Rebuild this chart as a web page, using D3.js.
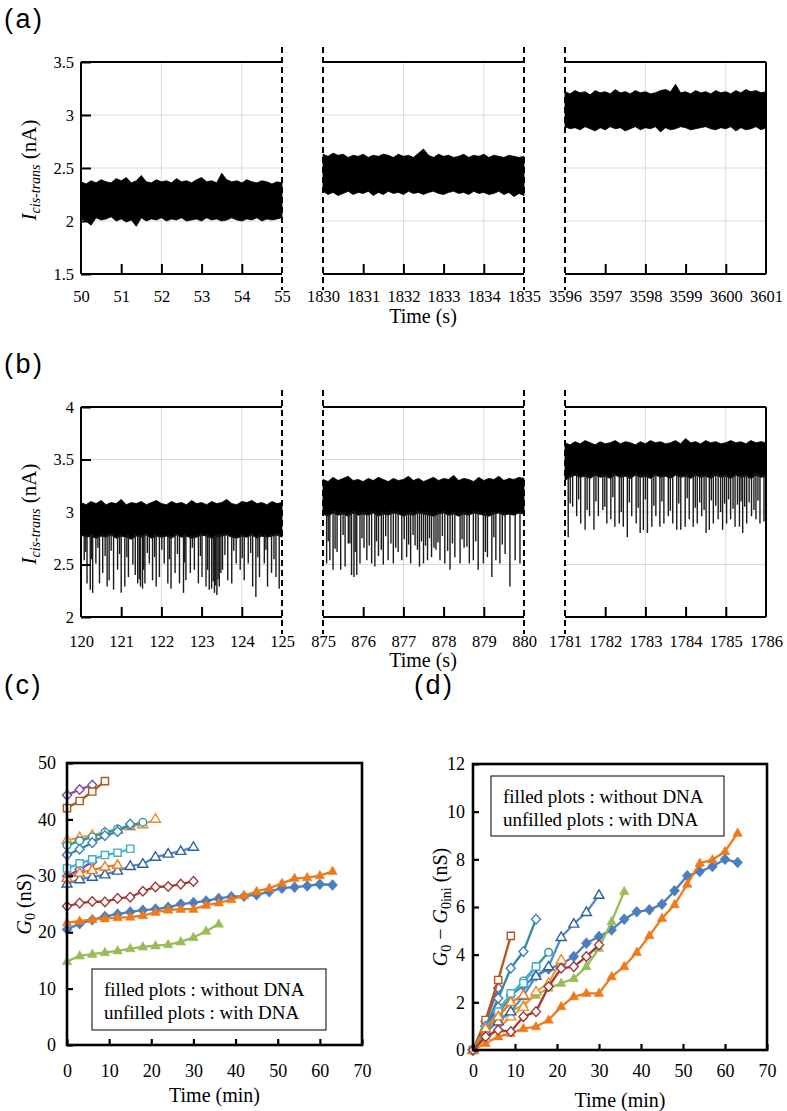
<!DOCTYPE html>
<html><head><meta charset="utf-8">
<script src="https://cdn.jsdelivr.net/npm/d3@7"></script>
<style>
html,body{margin:0;padding:0;background:#fff;}
svg{display:block;}
</style></head><body>
<svg id="chart" width="787" height="1111"></svg>
<script>
// ---------------- DATA: panel (a) current traces (envelopes, nA) ----------------
const aSegStarts = [50, 1830, 3596];
const aYTicks = [1.5, 2, 2.5, 3, 3.5];
const aTop1 = [2.37,2.35,2.38,2.36,2.39,2.37,2.36,2.40,2.38,2.41,2.36,2.38,2.43,2.37,2.36,2.39,2.37,2.38,2.36,2.40,2.37,2.38,2.36,2.39,2.41,2.37,2.38,2.36,2.45,2.39,2.37,2.38,2.36,2.39,2.37,2.36,2.38,2.37,2.35,2.37,2.36];
const aBot1 = [2.02,2.00,1.96,2.03,2.01,2.02,2.04,2.00,2.02,1.99,2.01,1.95,2.03,2.00,2.02,2.01,2.03,2.00,2.02,2.01,2.03,2.00,2.01,2.02,2.00,2.03,2.01,2.02,2.00,2.01,2.03,2.01,2.00,2.02,2.01,2.03,2.00,2.02,2.01,2.02,2.03];
const aTop2 = [2.63,2.61,2.64,2.62,2.63,2.60,2.62,2.61,2.63,2.60,2.62,2.61,2.63,2.62,2.60,2.63,2.61,2.62,2.60,2.64,2.68,2.62,2.60,2.63,2.61,2.62,2.60,2.61,2.63,2.60,2.62,2.61,2.63,2.60,2.62,2.61,2.60,2.62,2.61,2.60,2.61];
const aBot2 = [2.28,2.25,2.27,2.24,2.26,2.28,2.25,2.27,2.26,2.28,2.24,2.27,2.25,2.28,2.26,2.27,2.25,2.28,2.26,2.27,2.25,2.27,2.28,2.26,2.25,2.27,2.28,2.26,2.27,2.25,2.28,2.26,2.27,2.25,2.26,2.28,2.25,2.27,2.23,2.26,2.24];
const aTop3 = [3.22,3.20,3.23,3.21,3.22,3.19,3.23,3.21,3.22,3.20,3.24,3.21,3.22,3.20,3.23,3.21,3.22,3.20,3.21,3.23,3.24,3.22,3.29,3.21,3.22,3.20,3.23,3.21,3.22,3.20,3.23,3.21,3.22,3.20,3.23,3.21,3.24,3.22,3.23,3.21,3.22];
const aBot3 = [2.89,2.87,2.88,2.86,2.89,2.87,2.85,2.88,2.86,2.89,2.87,2.88,2.85,2.87,2.89,2.86,2.88,2.87,2.89,2.84,2.88,2.86,2.87,2.89,2.88,2.86,2.87,2.88,2.89,2.87,2.86,2.88,2.87,2.89,2.85,2.88,2.86,2.87,2.89,2.86,2.88];

// ---------------- DATA: panel (b) current traces with blockade spikes ----------------
const bSegStarts = [120, 875, 1781];
const bYTicks = [2, 2.5, 3, 3.5, 4];
const bTop1 = [3.09,3.07,3.10,3.08,3.11,3.07,3.09,3.08,3.12,3.07,3.09,3.08,3.10,3.07,3.09,3.11,3.08,3.07,3.10,3.08,3.09,3.07,3.11,3.08,3.09,3.07,3.10,3.08,3.09,3.12,3.08,3.07,3.10,3.09,3.11,3.08,3.09,3.07,3.10,3.08,3.09];
const bBot1 = [2.78,2.76,2.77,2.75,2.77,2.76,2.78,2.75,2.77,2.76,2.74,2.77,2.76,2.78,2.75,2.77,2.76,2.77,2.75,2.78,2.76,2.77,2.75,2.76,2.78,2.77,2.75,2.76,2.77,2.78,2.76,2.75,2.77,2.76,2.78,2.75,2.77,2.76,2.77,2.78,2.76];
const bTop2 = [3.31,3.29,3.33,3.30,3.32,3.34,3.30,3.31,3.29,3.32,3.30,3.33,3.31,3.29,3.32,3.30,3.31,3.34,3.30,3.32,3.29,3.31,3.33,3.30,3.32,3.31,3.35,3.30,3.32,3.31,3.29,3.33,3.30,3.32,3.31,3.34,3.30,3.32,3.31,3.33,3.32];
const bBot2 = [2.98,2.96,2.99,2.97,2.98,2.96,2.99,2.97,2.98,2.97,2.99,2.96,2.98,2.97,2.99,2.98,2.96,2.98,2.97,2.99,2.98,2.97,2.96,2.98,2.99,2.97,2.98,2.96,2.98,2.97,2.99,2.98,2.97,2.96,2.98,2.99,2.97,2.98,2.97,2.99,2.98];
const bTop3 = [3.66,3.64,3.67,3.65,3.68,3.66,3.64,3.67,3.65,3.66,3.68,3.65,3.67,3.66,3.64,3.67,3.65,3.68,3.66,3.67,3.65,3.66,3.68,3.65,3.70,3.66,3.67,3.65,3.68,3.66,3.67,3.65,3.66,3.68,3.66,3.67,3.65,3.68,3.66,3.67,3.66];
const bBot3 = [3.30,3.33,3.35,3.33,3.34,3.32,3.35,3.33,3.34,3.32,3.35,3.33,3.34,3.32,3.35,3.33,3.34,3.32,3.35,3.33,3.34,3.32,3.35,3.33,3.34,3.32,3.35,3.33,3.34,3.32,3.35,3.33,3.34,3.32,3.35,3.33,3.34,3.32,3.35,3.33,3.34];
// deep blockade spikes (time s, minimum nA)
const bSpikeT1 = [120.08,120.15,120.23,120.29,120.37,120.46,120.54,120.65,120.70,120.81,120.91,121.00,121.09,121.18,121.29,121.41,121.48,121.53,121.59,121.70,121.78,121.87,121.95,122.07,122.16,122.24,122.34,122.45,122.55,122.61,122.72,122.82,122.92,123.01,123.11,123.19,123.25,123.32,123.38,123.44,123.52,123.65,123.75,123.86,123.96,124.06,124.16,124.27,124.35,124.44,124.56,124.64,124.74,124.85,124.93];
const bSpikeV1 = [2.54,2.32,2.26,2.23,2.51,2.32,2.42,2.29,2.35,2.26,2.45,2.23,2.29,2.38,2.50,2.32,2.29,2.27,2.32,2.51,2.35,2.29,2.38,2.51,2.32,2.27,2.42,2.32,2.23,2.35,2.42,2.45,2.32,2.38,2.29,2.26,2.27,2.23,2.21,2.29,2.45,2.35,2.32,2.51,2.45,2.35,2.51,2.29,2.19,2.38,2.51,2.29,2.42,2.38,2.27];
const bSpikeT2 = [875.09,875.17,875.25,875.35,875.44,875.55,875.63,875.71,875.77,875.84,875.92,876.02,876.09,876.21,876.29,876.38,876.50,876.62,876.75,876.87,876.96,877.08,877.18,877.29,877.40,877.50,877.60,877.70,877.81,877.91,878.03,878.16,878.28,878.41,878.51,878.64,878.74,878.86,878.99,879.09,879.20,879.30,879.40,879.53,879.65,879.78,879.90];
const bSpikeV2 = [2.51,2.54,2.45,2.62,2.45,2.48,2.70,2.40,2.38,2.40,2.51,2.66,2.54,2.51,2.48,2.58,2.50,2.54,2.51,2.62,2.54,2.57,2.51,2.68,2.48,2.51,2.54,2.57,2.64,2.54,2.51,2.45,2.57,2.51,2.66,2.51,2.54,2.45,2.51,2.57,2.38,2.54,2.51,2.60,2.29,2.54,2.51];
const bSpikeT3 = [1781.08,1781.19,1781.29,1781.39,1781.50,1781.61,1781.72,1781.83,1781.94,1782.04,1782.14,1782.24,1782.35,1782.45,1782.55,1782.66,1782.77,1782.87,1782.95,1783.05,1783.16,1783.26,1783.36,1783.46,1783.57,1783.68,1783.78,1783.88,1783.99,1784.09,1784.19,1784.29,1784.40,1784.51,1784.59,1784.69,1784.81,1784.92,1785.02,1785.12,1785.23,1785.34,1785.42,1785.52,1785.64,1785.75,1785.85,1785.95];
const bSpikeV3 = [2.76,3.05,2.96,2.89,2.83,2.96,2.83,2.96,3.02,2.89,2.93,2.86,2.89,2.86,2.76,2.96,2.89,2.80,2.83,2.80,2.86,2.96,2.86,2.89,2.96,2.89,2.83,2.83,2.86,2.93,2.86,2.89,2.96,2.80,2.83,2.89,2.93,2.83,2.89,2.93,2.86,2.86,2.80,2.89,2.96,2.93,2.89,2.91];
// shallower blockade spikes
const bShallowT1 = [120.12,120.26,120.42,120.60,120.75,120.96,121.14,121.35,121.45,121.56,121.65,121.83,122.01,122.20,122.40,122.58,122.77,122.97,123.15,123.29,123.35,123.41,123.48,123.58,123.80,124.01,124.22,124.40,124.60,124.80];
const bShallowV1 = [2.62,2.55,2.66,2.58,2.63,2.60,2.57,2.40,2.36,2.45,2.61,2.57,2.64,2.55,2.60,2.52,2.66,2.58,2.45,2.34,2.30,2.36,2.42,2.59,2.63,2.56,2.61,2.57,2.64,2.55];
const bShallowT2 = [875.13,875.30,875.50,875.67,875.80,875.97,876.15,876.33,876.45,876.56,876.69,876.81,877.02,877.13,877.24,877.35,877.45,877.55,877.65,877.76,877.86,877.97,878.10,878.22,878.46,878.58,878.80,879.04,879.25,879.46];
const bShallowV2 = [2.72,2.65,2.78,2.70,2.62,2.75,2.68,2.72,2.64,2.77,2.70,2.66,2.74,2.69,2.78,2.64,2.72,2.68,2.75,2.66,2.71,2.77,2.63,2.70,2.74,2.67,2.72,2.62,2.76,2.69];
const bShallowT3 = [1781.13,1781.34,1781.55,1781.77,1781.99,1782.19,1782.40,1782.60,1782.82,1783.00,1783.21,1783.41,1783.62,1783.83,1784.04,1784.24,1784.35,1784.46,1784.64,1784.75,1784.87,1784.97,1785.07,1785.18,1785.29,1785.38,1785.47,1785.58,1785.70,1785.80];
const bShallowV3 = [3.08,3.12,3.02,3.10,3.05,3.14,3.00,3.09,3.04,3.12,3.06,3.10,3.01,3.08,3.13,3.04,3.09,3.02,3.11,3.06,3.00,3.08,3.12,3.03,3.07,3.10,3.05,3.09,3.02,3.11];

// ---------------- DATA: panels (c) and (d) conductance vs time ----------------
const timeMin = [0,3,6,9,12,15,18,21,24,27,30,33,36,39,42,45,48,51,54,57,60,63];
const cYTicks = [0,10,20,30,40,50];
const dYTicks = [0,2,4,6,8,10,12];
const xTicksMin = [0,10,20,30,40,50,60,70];
// G0 initial values (nS) and increase G0 - G0ini (nS)
const blueFilledG0 = 20.5;
const blueFilledDelta = [0,1.0,1.7,2.3,2.7,3.1,3.4,3.6,3.92,4.48,4.76,5.04,5.49,5.8,5.88,6.12,6.68,7.31,7.49,7.7,8.0,7.87];
const orangeFilledG0 = 21.7;
const orangeFilledDelta = [0,0.28,0.56,0.7,0.9,0.98,1.26,1.82,2.24,2.38,2.38,3.08,3.5,4.1,4.8,5.53,6.1,6.96,7.84,7.98,8.33,9.1];
const greenFilledG0 = 14.8;
const greenFilledDelta = [0,1.0,1.3,1.6,1.9,2.3,2.6,2.8,3.0,3.5,4.27,5.39,6.65];
const purpleTopG0 = 44.3;
const purpleTopDelta = [0,1.0,1.8];
const purpleLowG0 = 29.9;
const purpleLowDelta = [0,1.2,2.6];
const brownSqG0 = 42.0;
const brownSqDelta = [0,1.26,2.94,4.79];
const lightOrangeTriG0 = 36.3;
const lightOrangeTriDelta = [0,0.5,0.9,1.4,1.8,2.45,2.8,3.78];
const tealCircG0 = 35.4;
const tealCircDelta = [0,0.8,1.5,2.3,2.9,3.5,4.1];
const tealDiaG0 = 33.7;
const tealDiaDelta = [0,1.0,2.17,3.43,4.13,5.49];
const cyanSqG0 = 31.3;
const cyanSqDelta = [0,0.9,1.61,2.38,2.8,3.5];
const blueTriG0 = 28.6;
const blueTriDelta = [0,0.75,1.19,1.61,2.27,3.1,3.5,4.73,5.29,5.78,6.5];
const orangeTriG0 = 29.6;
const orangeTriDelta = [0,0.9,1.4,2.0,2.3];
const redDiaG0 = 24.6;
const redDiaDelta = [0,0.56,0.84,0.77,1.4,1.61,2.66,3.43,3.5,3.92,4.41];

// ---------------- drawing ----------------
const SERIF = '"Liberation Serif","Times New Roman",Times,serif';
const SANS = '"Liberation Sans",Arial,Helvetica,sans-serif';
const svg = d3.select('#chart').style('font-family', SERIF);

const segXRange = [[81,282],[323,524],[565,766]];
const fmtNum = d => String(d);

function drawTracePanel(cfg) {
  const y = d3.scaleLinear().domain([cfg.yTicks[0], cfg.yTicks[cfg.yTicks.length-1]]).range([cfg.yBot, cfg.yTop]);
  cfg.segStarts.forEach((s0, i) => {
    const [x0, x1] = segXRange[i];
    const x = d3.scaleLinear().domain([s0, s0 + 5]).range([x0, x1]);
    const g = svg.append('g');
    // grid
    g.selectAll('line.vg').data([s0 + 2, s0 + 4]).enter().append('line')
      .attr('x1', d => x(d)).attr('x2', d => x(d)).attr('y1', cfg.yTop).attr('y2', cfg.yBot)
      .attr('stroke', '#d9d9d9').attr('stroke-width', 1);
    g.selectAll('line.hg').data(cfg.yTicks.slice(1, -1)).enter().append('line')
      .attr('x1', x0).attr('x2', x1).attr('y1', d => y(d)).attr('y2', d => y(d))
      .attr('stroke', '#d9d9d9').attr('stroke-width', 1);
    // noise band
    const top = cfg.tops[i], bot = cfg.bots[i];
    const pts = top.map((v, k) => [s0 + 5 * k / (top.length - 1), v])
      .concat(bot.map((v, k) => [s0 + 5 * k / (bot.length - 1), v]).reverse());
    g.append('path').attr('d', d3.line().x(d => x(d[0])).y(d => y(d[1]))(pts) + 'Z')
      .attr('fill', '#000').attr('stroke', '#000').attr('stroke-width', 0.8);
    // spikes
    if (cfg.spikeT) {
      const st = cfg.spikeT[i], sv = cfg.spikeV[i];
      st.forEach((t, k) => {
        const idx = Math.round((t - s0) / 5 * (bot.length - 1));
        const base = bot[Math.max(0, Math.min(bot.length - 1, idx))];
        g.append('line').attr('x1', x(t)).attr('x2', x(t))
          .attr('y1', y(base) - 2).attr('y2', y(sv[k]))
          .attr('stroke', '#1a1a1a').attr('stroke-width', 1.4);
      });
    }
    // frame
    const solid = (xa, ya, xb, yb) => g.append('line').attr('x1', xa).attr('y1', ya).attr('x2', xb).attr('y2', yb)
      .attr('stroke', '#000').attr('stroke-width', 2);
    const dashed = (xx) => g.append('line').attr('x1', xx).attr('x2', xx).attr('y1', cfg.dashTop).attr('y2', cfg.dashBot)
      .attr('stroke', '#000').attr('stroke-width', 2).attr('stroke-dasharray', '6,4');
    solid(x0, cfg.yTop, x1, cfg.yTop);
    solid(x0, cfg.yBot, x1, cfg.yBot);
    if (i === 0) solid(x0, cfg.yTop, x0, cfg.yBot); else dashed(x0);
    if (i === 2) solid(x1, cfg.yTop, x1, cfg.yBot); else dashed(x1);
    // x axis
    const xa = g.append('g').attr('transform', `translate(0,${cfg.yBot})`)
      .call(d3.axisBottom(x).tickValues(d3.range(s0, s0 + 6)).tickFormat(d3.format('d'))
        .tickSizeInner(-10).tickSizeOuter(0).tickPadding(cfg.xPad));
    xa.select('.domain').remove();
    xa.selectAll('.tick line').attr('stroke-width', 2).filter(d => d === s0 || d === s0 + 5).remove();
    xa.selectAll('.tick text').style('font-family', SERIF).attr('font-size', 16.5).attr('fill', '#000');
    // y axis (first segment only)
    if (i === 0) {
      const ya = g.append('g').attr('transform', `translate(${x0},0)`)
        .call(d3.axisLeft(y).tickValues(cfg.yTicks).tickFormat(fmtNum).tickSizeInner(-10).tickSizeOuter(0).tickPadding(7));
      ya.select('.domain').remove();
      ya.selectAll('.tick line').attr('stroke-width', 2);
      ya.selectAll('.tick text').style('font-family', SERIF).attr('font-size', 16.5).attr('fill', '#000');
    }
  });
  // titles
  svg.append('text').attr('x', 423).attr('y', cfg.titleY).attr('text-anchor', 'middle')
    .attr('font-size', 20).text('Time (s)');
  const yl = svg.append('text').attr('transform', `translate(${cfg.yLabX},${(cfg.yTop + cfg.yBot) / 2 + 2}) rotate(-90)`)
    .attr('text-anchor', 'middle').attr('font-size', 21);
  yl.append('tspan').attr('font-style', 'italic').text('I');
  yl.append('tspan').attr('font-style', 'italic').attr('font-size', 14).attr('dy', 4).text('cis-trans');
  yl.append('tspan').attr('dy', -4).text(' (nA)');
  svg.append('text').attr('x', 4).attr('y', cfg.panelY).style('font-family', SANS).attr('font-size', 27)
    .attr('letter-spacing', 2.5).text(cfg.label);
}

drawTracePanel({
  label: '(a)', panelY: 28, segStarts: aSegStarts, yTicks: aYTicks, yTop: 62, yBot: 274,
  tops: [aTop1, aTop2, aTop3], bots: [aBot1, aBot2, aBot3],
  dashTop: 47, dashBot: 290, xPad: 16, titleY: 323, yLabX: 36
});
drawTracePanel({
  label: '(b)', panelY: 373, segStarts: bSegStarts, yTicks: bYTicks, yTop: 407, yBot: 617,
  tops: [bTop1, bTop2, bTop3], bots: [bBot1, bBot2, bBot3],
  spikeT: [bSpikeT1.concat(bShallowT1), bSpikeT2.concat(bShallowT2), bSpikeT3.concat(bShallowT3)],
  spikeV: [bSpikeV1.concat(bShallowV1), bSpikeV2.concat(bShallowV2), bSpikeV3.concat(bShallowV3)],
  dashTop: 390, dashBot: 634, xPad: 18, titleY: 667, yLabX: 36
});

// ---- marker shapes ----
const diamondShape = (w, h) => ({ draw(c) { c.moveTo(0, -h); c.lineTo(w, 0); c.lineTo(0, h); c.lineTo(-w, 0); c.closePath(); } });
const triangleShape = (w, h) => ({ draw(c) { c.moveTo(0, -h * 0.62); c.lineTo(w, h * 0.38); c.lineTo(-w, h * 0.38); c.closePath(); } });
const squareShape = (s) => ({ draw(c) { c.rect(-s, -s, 2 * s, 2 * s); } });
const circleShape = (r) => ({ draw(c) { c.moveTo(r, 0); c.arc(0, 0, r, 0, 2 * Math.PI); } });

const seriesList = [
  { g0: blueFilledG0, delta: blueFilledDelta, line: '#4A7EBF', mk: '#4A7EBF', fill: '#4A7EBF', shape: diamondShape(5, 5.5) },
  { g0: orangeFilledG0, delta: orangeFilledDelta, line: '#EE7A1C', mk: '#EE7A1C', fill: '#EE7A1C', shape: triangleShape(4.8, 8.5) },
  { g0: greenFilledG0, delta: greenFilledDelta, line: '#9BBB59', mk: '#9BBB59', fill: '#9BBB59', shape: triangleShape(4.8, 8.5) },
  { g0: purpleTopG0, delta: purpleTopDelta, line: '#7D4FA6', mk: '#7D4FA6', fill: '#fff', shape: diamondShape(4.5, 4.8) },
  { g0: purpleLowG0, delta: purpleLowDelta, line: '#7D4FA6', mk: '#7D4FA6', fill: '#fff', shape: diamondShape(4.5, 4.8) },
  { g0: brownSqG0, delta: brownSqDelta, line: '#B0581C', mk: '#B0581C', fill: '#fff', shape: squareShape(3.6) },
  { g0: lightOrangeTriG0, delta: lightOrangeTriDelta, line: '#F49A4E', mk: '#EF8A36', fill: '#fff', shape: triangleShape(5, 8.5) },
  { g0: tealCircG0, delta: tealCircDelta, line: '#31989A', mk: '#31989A', fill: '#fff', shape: circleShape(3.8) },
  { g0: tealDiaG0, delta: tealDiaDelta, line: '#2E8C9C', mk: '#3F7FC2', fill: '#fff', shape: diamondShape(4.5, 4.8) },
  { g0: cyanSqG0, delta: cyanSqDelta, line: '#4BB2C9', mk: '#3FAFC6', fill: '#fff', shape: squareShape(3.6) },
  { g0: blueTriG0, delta: blueTriDelta, line: '#4C8BD0', mk: '#2F5F9F', fill: '#fff', shape: triangleShape(5, 8.5) },
  { g0: orangeTriG0, delta: orangeTriDelta, line: '#EE7A1C', mk: '#EE7A1C', fill: '#fff', shape: triangleShape(5, 8.5) },
  { g0: redDiaG0, delta: redDiaDelta, line: '#A03A36', mk: '#A03A36', fill: '#fff', shape: diamondShape(4.5, 4.8) }
];

function drawGPanel(cfg) {
  const x = d3.scaleLinear().domain([0, 70]).range([cfg.x0, cfg.x1]);
  const y = d3.scaleLinear().domain([0, cfg.yTicks[cfg.yTicks.length - 1]]).range([cfg.yBot, cfg.yTop]);
  const g = svg.append('g');
  const line = d3.line().x(d => x(d[0])).y(d => y(d[1]));
  seriesList.forEach(s => {
    const pts = s.delta.map((d, k) => [timeMin[k], cfg.absolute ? s.g0 + d : d]);
    g.append('path').attr('d', line(pts)).attr('fill', 'none').attr('stroke', s.line)
      .attr('stroke-width', 2.3).attr('stroke-linejoin', 'round');
    g.selectAll(null).data(pts).enter().append('path')
      .attr('transform', d => `translate(${x(d[0])},${y(d[1])})`)
      .attr('d', d3.symbol().type(s.shape)())
      .attr('fill', s.fill).attr('stroke', s.mk).attr('stroke-width', s.fill === '#fff' ? 1.4 : 0.5);
  });
  // legend box
  g.append('rect').attr('x', cfg.lg[0]).attr('y', cfg.lg[1]).attr('width', cfg.lg[2]).attr('height', cfg.lg[3])
    .attr('fill', '#fff').attr('stroke', '#000').attr('stroke-width', 1);
  g.append('text').attr('x', cfg.lg[0] + 12).attr('y', cfg.lg[1] + 27).attr('font-size', 19).text('filled plots : without DNA');
  g.append('text').attr('x', cfg.lg[0] + 12).attr('y', cfg.lg[1] + 50).attr('font-size', 19).text('unfilled plots : with DNA');
  // frame
  g.append('rect').attr('x', cfg.x0).attr('y', cfg.yTop).attr('width', cfg.x1 - cfg.x0).attr('height', cfg.yBot - cfg.yTop)
    .attr('fill', 'none').attr('stroke', '#000').attr('stroke-width', 2.6);
  const xa = g.append('g').attr('transform', `translate(0,${cfg.yBot})`)
    .call(d3.axisBottom(x).tickValues(xTicksMin).tickSizeInner(-6).tickSizeOuter(0).tickPadding(cfg.xPad));
  xa.select('.domain').remove();
  xa.selectAll('.tick line').attr('stroke-width', 2.2);
  xa.selectAll('.tick text').style('font-family', SERIF).attr('font-size', 18).attr('fill', '#000');
  const ya = g.append('g').attr('transform', `translate(${cfg.x0},0)`)
    .call(d3.axisLeft(y).tickValues(cfg.yTicks).tickFormat(fmtNum).tickSizeInner(-6).tickSizeOuter(0).tickPadding(cfg.yPad));
  ya.select('.domain').remove();
  ya.selectAll('.tick line').attr('stroke-width', 2.2);
  ya.selectAll('.tick text').style('font-family', SERIF).attr('font-size', 18).attr('fill', '#000');
  svg.append('text').attr('x', (cfg.x0 + cfg.x1) / 2).attr('y', cfg.yBot + 57).attr('text-anchor', 'middle')
    .attr('font-size', 20).text('Time (min)');
  svg.append('text').attr('x', cfg.labX).attr('y', cfg.labY).style('font-family', SANS).attr('font-size', 27)
    .attr('letter-spacing', 2.5).text(cfg.label);
  const yl = svg.append('text').attr('transform', `translate(${cfg.yLabX},${(cfg.yTop + cfg.yBot) / 2}) rotate(-90)`)
    .attr('text-anchor', 'middle').attr('font-size', 20);
  if (cfg.absolute) {
    yl.append('tspan').attr('font-style', 'italic').text('G');
    yl.append('tspan').attr('font-size', 14).attr('dy', 4).text('0');
    yl.append('tspan').attr('dy', -4).text(' (nS)');
  } else {
    yl.append('tspan').attr('font-style', 'italic').text('G');
    yl.append('tspan').attr('font-size', 14).attr('dy', 4).text('0');
    yl.append('tspan').attr('dy', -4).text(' − ');
    yl.append('tspan').attr('font-style', 'italic').text('G');
    yl.append('tspan').attr('font-size', 14).attr('dy', 4).text('0ini');
    yl.append('tspan').attr('dy', -4).text(' (nS)');
  }
}

drawGPanel({ label: '(c)', labX: 4, labY: 694, absolute: true, x0: 67, x1: 362, yTop: 763, yBot: 1045, yTicks: cYTicks,
  xPad: 19, yPad: 11, lg: [92, 969, 234, 61], yLabX: 31 });
drawGPanel({ label: '(d)', labX: 414, labY: 694, absolute: false, x0: 473, x1: 767, yTop: 764, yBot: 1050, yTicks: dYTicks,
  xPad: 14, yPad: 8, lg: [491, 776, 233, 60], yLabX: 447 });
</script>
</body></html>
